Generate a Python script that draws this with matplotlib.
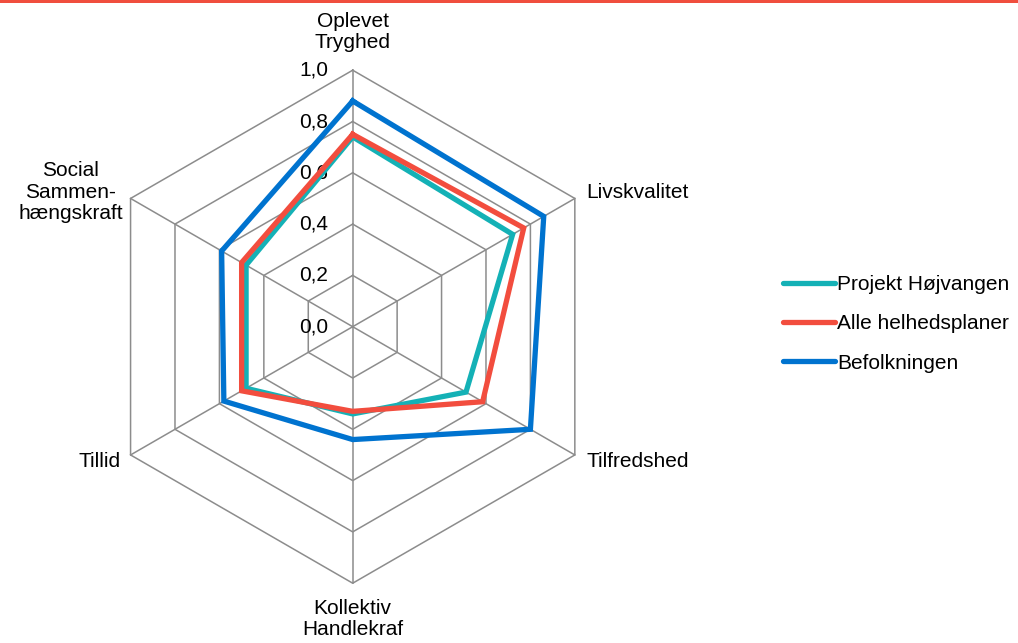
import numpy as np
import matplotlib.pyplot as plt
from matplotlib.patches import Rectangle

plt.rcParams['font.family'] = ['Liberation Sans', 'DejaVu Sans']

categories = ['Oplevet\nTryghed', 'Livskvalitet', 'Tilfredshed',
              'Kollektiv\nHandlekraf', 'Tillid', 'Social\nSammen-\nhængskraft']
series_names = ['Projekt Højvangen', 'Alle helhedsplaner', 'Befolkningen']
hojvangen = [0.74, 0.72, 0.51, 0.34, 0.48, 0.48]
helhedsplaner = [0.75, 0.77, 0.585, 0.33, 0.50, 0.50]
befolkningen = [0.88, 0.86, 0.80, 0.44, 0.58, 0.59]
colors = ['#14B1B6', '#F24D3E', '#0073CF']
ticks = [0.0, 0.2, 0.4, 0.6, 0.8, 1.0]
tick_labels = ['0,0', '0,2', '0,4', '0,6', '0,8', '1,0']

n = len(categories)
theta = np.arange(n) * 2 * np.pi / n
theta_c = np.append(theta, theta[0])


def to_xy(vals):
    v = np.append(vals, vals[0])
    return v * np.sin(theta_c), v * np.cos(theta_c)


fig = plt.figure(figsize=(10.18, 6.43), dpi=100)
ax = fig.add_axes([44.9 / 1018, 8.5 / 643, 615.6 / 1018, 615.6 / 643])
ax.set_xlim(-1.2, 1.2)
ax.set_ylim(-1.2, 1.2)
ax.axis('off')

# hexagon grid and spokes
grid_c = '#8C8C8C'
for t in ticks[1:]:
    gx, gy = to_xy(np.full(n, t))
    ax.plot(gx, gy, color=grid_c, lw=1.1, zorder=1)
for th in theta:
    ax.plot([0, np.sin(th)], [0, np.cos(th)], color=grid_c, lw=1.1, zorder=1)

for t, lab in zip(ticks, tick_labels):
    ax.text(-0.096, t, lab, ha='right', va='center', fontsize=15, zorder=2)

for name, vals, c in zip(series_names, [hojvangen, helhedsplaner, befolkningen], colors):
    x, y = to_xy(np.array(vals))
    ax.plot(x, y, color=c, lw=3.8, label=name, zorder=3, solid_joinstyle='miter')

# category labels
fs = 15
ax.text(0, 1.149, categories[0], ha='center', va='center', fontsize=fs, linespacing=1.15, clip_on=False)
ax.text(0.91, 0.525, categories[1], ha='left', va='center', fontsize=fs, clip_on=False)
ax.text(0.91, -0.524, categories[2], ha='left', va='center', fontsize=fs, clip_on=False)
ax.text(0, -1.14, categories[3], ha='center', va='center', fontsize=fs, linespacing=1.15, clip_on=False)
ax.text(-0.903, -0.524, categories[4], ha='right', va='center', fontsize=fs, clip_on=False)
ax.text(-0.895, 0.525, categories[5], ha='right', va='center', fontsize=fs,
        multialignment='center', linespacing=1.15, clip_on=False)

leg = fig.legend(loc='center left', bbox_to_anchor=(764 / 1018, (643 - 324) / 643),
                 frameon=False, fontsize=fs, handlelength=2.5, handletextpad=0.1,
                 labelspacing=0.97)
for line in leg.get_lines():
    line.set_solid_capstyle('round')

# thin accent bar at the top
fig.add_artist(Rectangle((0, 1 - 3 / 643), 1, 3 / 643, transform=fig.transFigure,
                         color='#F04E3E', lw=0))

fig.savefig('out.png', dpi=100)
